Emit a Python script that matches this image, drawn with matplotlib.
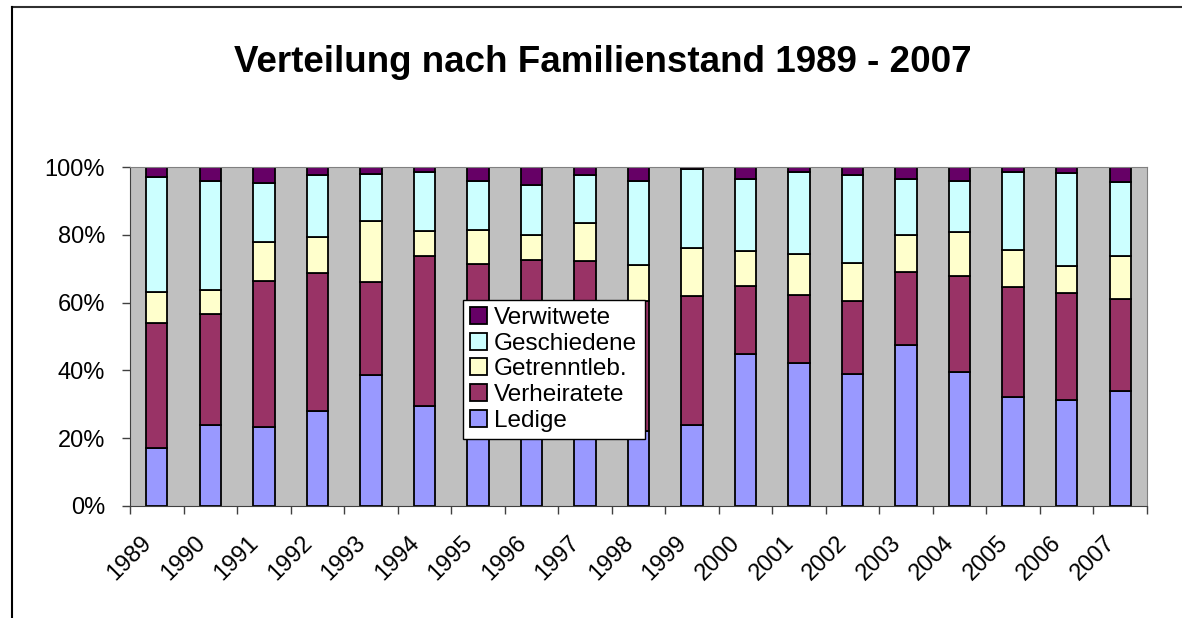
import numpy as np
import matplotlib.pyplot as plt
from matplotlib.lines import Line2D

plt.rcParams['font.family'] = ['Liberation Sans', 'DejaVu Sans']

years = [str(y) for y in range(1989, 2008)]
ledige = [17.2, 24.0, 23.4, 28.0, 38.6, 29.4, 33.0, 30.0, 35.0, 22.1,
          23.8, 44.9, 42.3, 38.8, 47.4, 39.4, 32.1, 31.4, 33.8]
verheiratete = [36.7, 32.5, 43.0, 40.7, 27.4, 44.3, 38.4, 42.6, 37.4, 38.3,
                38.2, 20.1, 19.8, 21.6, 21.5, 28.3, 32.5, 31.4, 27.2]
getrenntleb = [9.3, 7.1, 11.6, 10.6, 18.1, 7.5, 10.1, 7.2, 11.2, 10.6,
               14.2, 10.3, 12.2, 11.4, 11.1, 13.2, 11.0, 8.0, 12.7]
geschiedene = [33.8, 32.3, 17.4, 18.4, 13.7, 17.3, 14.5, 14.9, 14.0, 25.0,
               23.1, 21.1, 24.3, 25.8, 16.4, 14.9, 23.0, 27.5, 21.9]
verwitwete = [3.0, 4.1, 4.6, 2.3, 2.2, 1.5, 4.0, 5.3, 2.4, 4.0,
              0.7, 3.6, 1.4, 2.4, 3.6, 4.2, 1.4, 1.7, 4.4]

series = [
    ('Ledige', ledige, '#9999FF'),
    ('Verheiratete', verheiratete, '#993366'),
    ('Getrenntleb.', getrenntleb, '#FFFFCC'),
    ('Geschiedene', geschiedene, '#CCFFFF'),
    ('Verwitwete', verwitwete, '#660066'),
]

fig = plt.figure(figsize=(11.82, 6.18), dpi=100)
ax = fig.add_axes([130 / 1182, 1 - 506 / 618, 1017 / 1182, 339 / 618])
ax.set_facecolor('#C0C0C0')

x = np.arange(len(years))
total = np.sum([s[1] for s in series], axis=0)
bottom = np.zeros(len(years))
handles = []
for name, vals, col in series:
    pct = np.array(vals) / total * 100
    b = ax.bar(x, pct, width=0.4, bottom=bottom, color=col,
               edgecolor='black', linewidth=1.3, label=name)
    handles.append(b)
    bottom += pct

ax.set_xlim(-0.5, len(years) - 0.5)
ax.set_ylim(0, 100)
ax.set_yticks(range(0, 101, 20))
ax.set_yticklabels([f'{v}%' for v in range(0, 101, 20)], fontsize=17)
ax.set_xticks(np.arange(-0.5, len(years), 1))
ax.set_xticklabels([])
# labels sit slightly left of the bar centre, as in Excel
ax.set_xticks(x - 0.16, minor=True)
ax.set_xticklabels(years, minor=True, fontsize=17, rotation=45,
                   ha='right', va='center', rotation_mode='anchor')
ax.tick_params(axis='x', which='minor', length=0, pad=24)
ax.tick_params(axis='x', which='major', length=6, width=1, color='#404040')
ax.tick_params(axis='y', length=6, width=1, color='#404040', pad=12)

for side in ['top', 'right']:
    ax.spines[side].set_color('#808080')
for side in ['left', 'bottom']:
    ax.spines[side].set_color('#404040')

leg = ax.legend(handles[::-1], [s[0] for s in series][::-1],
                loc='lower left', bbox_to_anchor=(0.327, 0.198),
                borderaxespad=0, fontsize=17.5, frameon=True, fancybox=False,
                edgecolor='black', framealpha=1, handlelength=0.7,
                handleheight=0.7, handletextpad=0.3, labelspacing=0.15,
                borderpad=0.3)
leg.get_frame().set_linewidth(1)

fig.text(0.51, 1 - 62 / 618, 'Verteilung nach Familienstand 1989 - 2007',
         ha='center', va='center', fontsize=26.5, fontweight='bold')

fig.add_artist(Line2D([11.5 / 1182, 1.0], [1 - 6.5 / 618] * 2,
                      color='#303030', lw=1.5))
fig.add_artist(Line2D([11.5 / 1182] * 2, [0, 1 - 6.5 / 618],
                      color='black', lw=1.5))

fig.savefig('out.png', dpi=100)
